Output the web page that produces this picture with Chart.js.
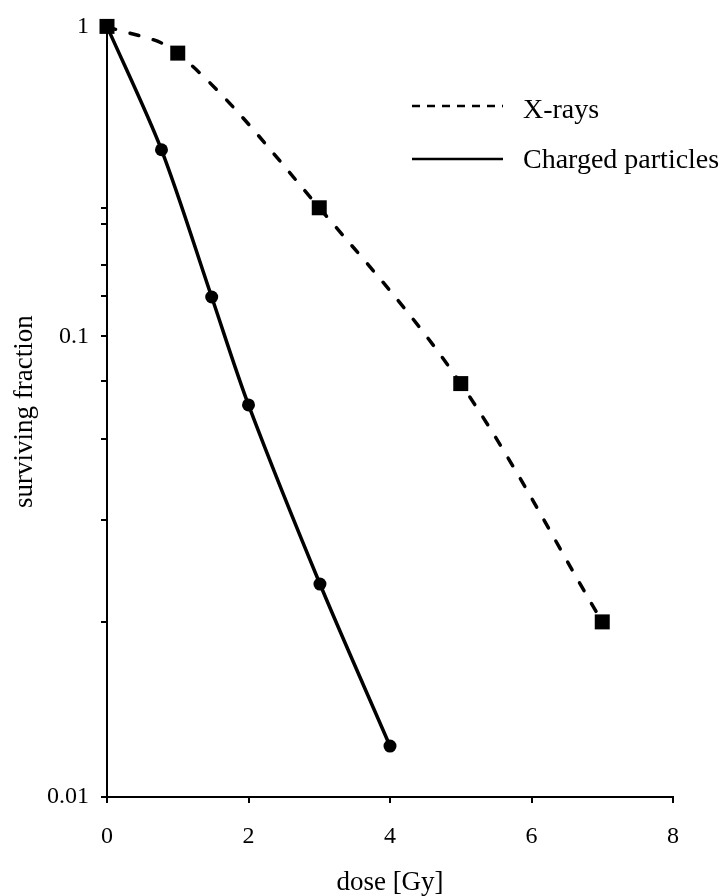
<!DOCTYPE html>
<html>
<head>
<meta charset="utf-8">
<script src="https://cdn.jsdelivr.net/npm/chart.js@4/dist/chart.umd.min.js"></script>
<style>
  html, body { margin: 0; padding: 0; background: #fff; }
  #wrap { width: 722px; height: 896px; position: relative; }
</style>
</head>
<body>
<div id="wrap"><canvas id="survivalChart"></canvas></div>
<script>
// --- Data ---
const doseXray = [0, 1, 3, 5, 7];
const survXray = [1, 0.82, 0.26, 0.079, 0.024];
const doseCharged = [0, 0.77, 1.48, 2, 3.01, 4];
const survCharged = [1, 0.40, 0.134, 0.071, 0.029, 0.0129];
const xTicks = [0, 2, 4, 6, 8];
const yMajorTicks = [0.01, 0.1, 1];
const yMinorTicks = [0.024, 0.04, 0.06, 0.08, 0.135, 0.17, 0.23, 0.26];
const seriesNames = ['X-rays', 'Charged particles'];

const SERIF = "'Liberation Serif', 'Times New Roman', serif";

// The original axis gives the 0.1-1 decade less room than the 0.01-0.1 one
const UPPER_SHARE = 311 / 773;

class SplitLogScale extends Chart.LogarithmicScale {
    static id = 'splitLog';
    static defaults = Chart.LogarithmicScale.defaults;

    toDecimal(value) {
        const lg = Math.log10(value);
        const lower = 1 - UPPER_SHARE;
        return lg < -1 ? (lg + 2) * lower : lower + (lg + 1) * UPPER_SHARE;
    }
    getPixelForValue(value) {
        if (!(value > 0)) return NaN;
        return this.getPixelForDecimal(this.toDecimal(value));
    }
    getValueForPixel(pixel) {
        const d = this.getDecimalForPixel(pixel);
        const lower = 1 - UPPER_SHARE;
        const lg = d < lower ? d / lower - 2 : (d - lower) / UPPER_SHARE - 1;
        return Math.pow(10, lg);
    }
}
Chart.register(SplitLogScale);

const toPoints = (xs, ys) => xs.map((x, i) => ({ x: x, y: ys[i] }));

// legend sits inside the plot, top right
const insideLegend = {
    id: 'insideLegend',
    afterDatasetsDraw(chart) {
        const ctx = chart.ctx;
        const rows = [
            { ds: chart.data.datasets[0], lineY: 106, textY: 118 },
            { ds: chart.data.datasets[1], lineY: 159, textY: 168 }
        ];
        ctx.save();
        rows.forEach(row => {
            ctx.beginPath();
            ctx.strokeStyle = '#000';
            ctx.lineWidth = 2.5;
            ctx.setLineDash(row.ds.borderDash ? [8, 7] : []);
            ctx.moveTo(412, row.lineY);
            ctx.lineTo(503, row.lineY);
            ctx.stroke();
            ctx.setLineDash([]);
            ctx.fillStyle = '#000';
            ctx.font = '28px ' + SERIF;
            ctx.textBaseline = 'alphabetic';
            ctx.textAlign = 'left';
            ctx.fillText(row.ds.label, 523, row.textY);
        });
        ctx.restore();
    }
};

new Chart(document.getElementById('survivalChart'), {
    type: 'line',
    data: {
        datasets: [{
            label: seriesNames[0],
            data: toPoints(doseXray, survXray),
            borderColor: '#000',
            backgroundColor: '#000',
            borderWidth: 3.5,
            borderDash: [9, 15],
            borderCapStyle: 'round',
            tension: 0.35,
            pointStyle: 'rect',
            pointRadius: 10.6,
            pointBorderWidth: 0,
            clip: false
        }, {
            label: seriesNames[1],
            data: toPoints(doseCharged, survCharged),
            borderColor: '#000',
            backgroundColor: '#000',
            borderWidth: 3.5,
            tension: 0.3,
            pointStyle: 'circle',
            pointRadius: 6.5,
            pointBorderWidth: 0,
            clip: false
        }]
    },
    options: {
        responsive: true,
        maintainAspectRatio: false,
        animation: false,
        layout: { padding: { top: 24, right: 49, left: 0, bottom: 0 } },
        plugins: {
            legend: { display: false },
            tooltip: { enabled: false }
        },
        scales: {
            x: {
                type: 'linear',
                min: 0,
                max: 8,
                afterFit: s => { s.height = 99; },
                afterBuildTicks: s => { s.ticks = xTicks.map(v => ({ value: v })); },
                ticks: {
                    color: '#000',
                    padding: 19,
                    font: { family: SERIF, size: 24 }
                },
                grid: {
                    drawOnChartArea: false,
                    tickLength: 6,
                    lineWidth: 2,
                    color: '#000'
                },
                border: { display: true, color: '#000', width: 2 },
                title: {
                    display: true,
                    text: 'dose [Gy]',
                    color: '#000',
                    padding: { top: 0, bottom: 0 },
                    font: { family: SERIF, size: 27, lineHeight: 1 }
                }
            },
            y: {
                type: 'splitLog',
                min: 0.01,
                max: 1,
                afterFit: s => { s.width = 107; },
                afterBuildTicks: s => {
                    s.ticks = yMajorTicks.concat(yMinorTicks)
                        .sort((a, b) => a - b)
                        .map(v => ({ value: v, major: yMajorTicks.includes(v) }));
                },
                ticks: {
                    color: '#000',
                    padding: 12,
                    autoSkip: false,
                    font: { family: SERIF, size: 24 },
                    callback: v => yMajorTicks.includes(v) ? String(v) : ''
                },
                grid: {
                    drawOnChartArea: false,
                    tickLength: 6,
                    lineWidth: 2,
                    color: '#000'
                },
                border: { display: true, color: '#000', width: 2 },
                title: {
                    display: true,
                    text: 'surviving fraction',
                    color: '#000',
                    padding: { top: 11, bottom: 0 },
                    font: { family: SERIF, size: 27, lineHeight: 1 }
                }
            }
        }
    },
    plugins: [insideLegend]
});
</script>
</body>
</html>
